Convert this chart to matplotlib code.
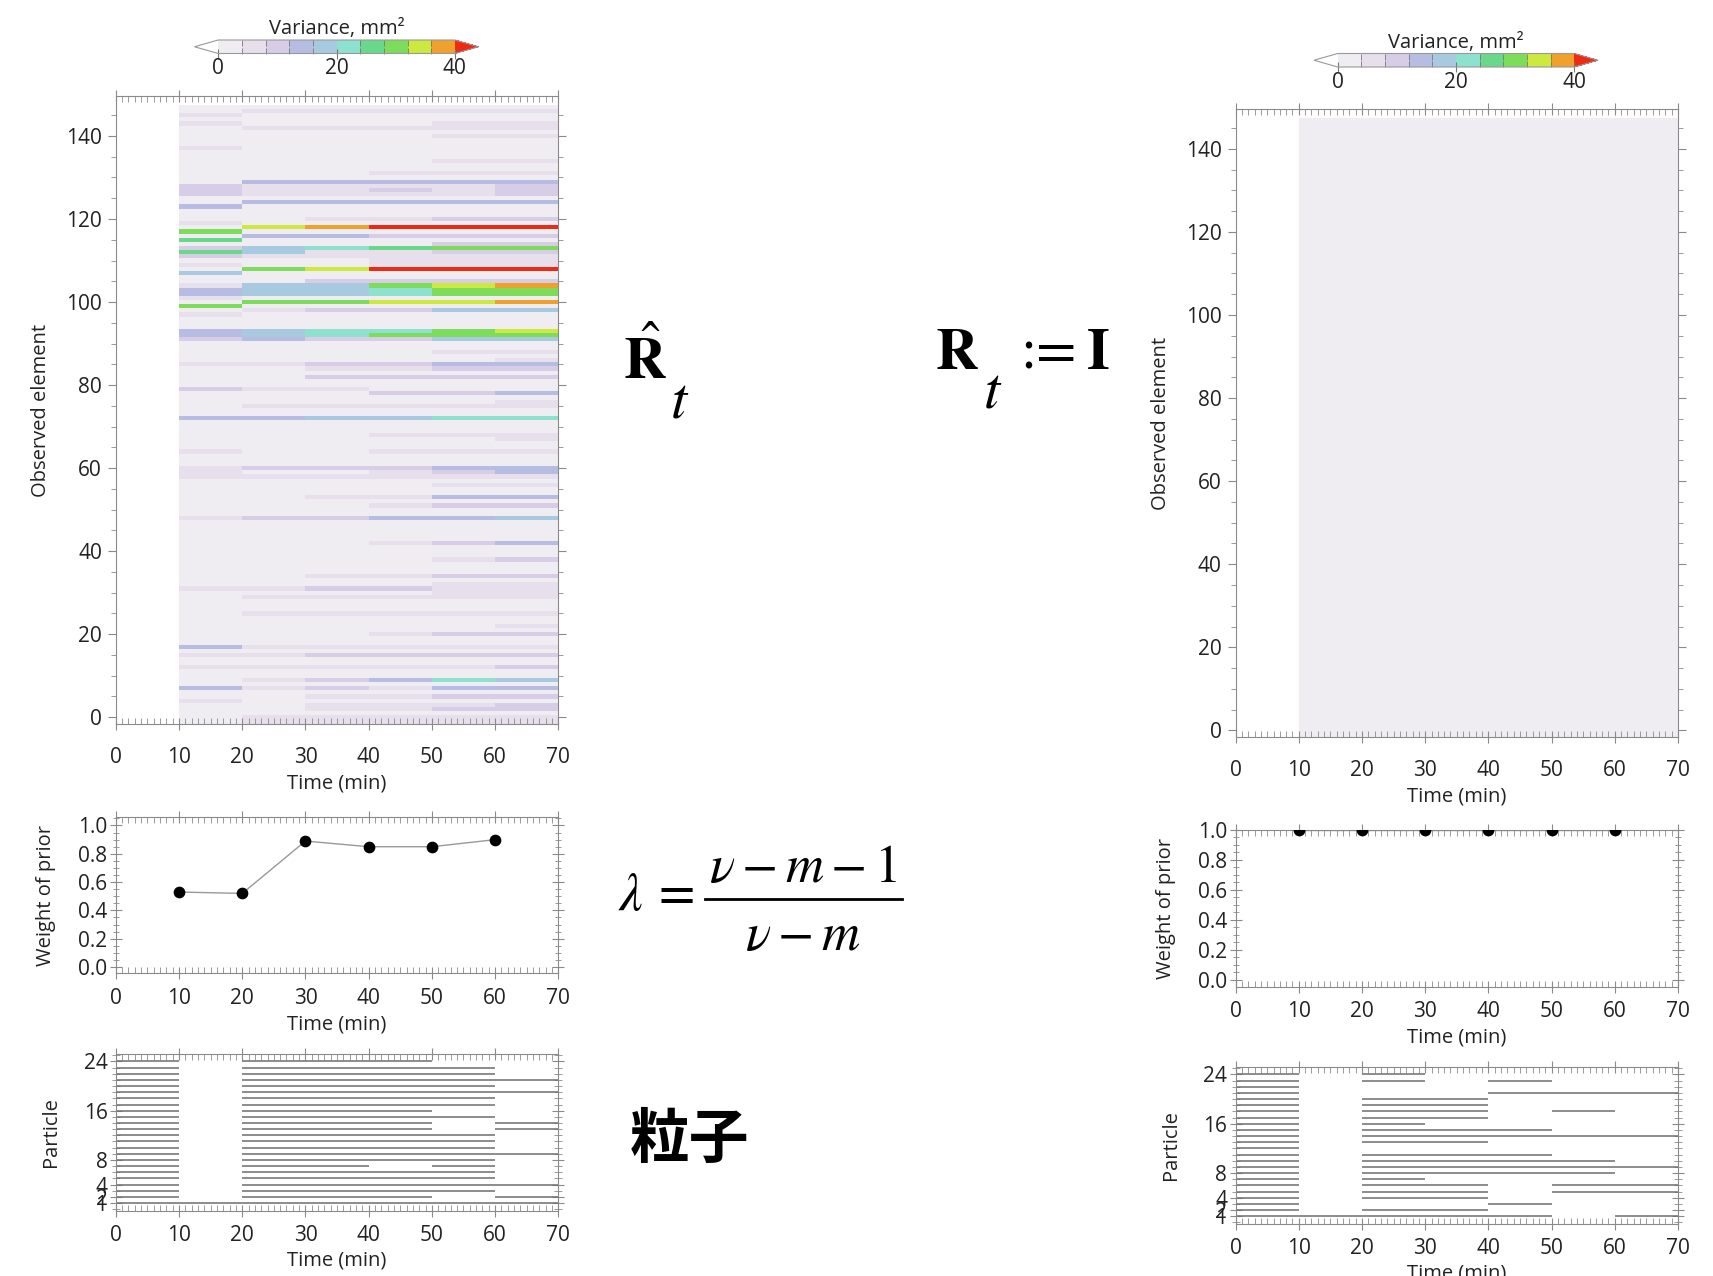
import numpy as np
import matplotlib.pyplot as plt
from matplotlib.colors import ListedColormap, BoundaryNorm
from matplotlib.ticker import MultipleLocator, FixedLocator
from matplotlib.lines import Line2D

plt.rcParams['font.family'] = ['Open Sans', 'DejaVu Sans']
plt.rcParams['mathtext.fontset'] = 'stix'
plt.rcParams['axes.edgecolor'] = '#8a8a8a'
plt.rcParams['xtick.color'] = '#8a8a8a'
plt.rcParams['ytick.color'] = '#8a8a8a'
plt.rcParams['xtick.labelcolor'] = '#222222'
plt.rcParams['ytick.labelcolor'] = '#222222'

# ---- data ----
time_edges = [0, 10, 20, 30, 40, 50, 60, 70]
n_elements = 148
background_var = 2.0

# observed elements whose variance differs from background
# columns: 10-20, 20-30, 30-40, 40-50, 50-60, 60-70 min
hot_rows = [146, 145, 143, 142, 140, 137, 134, 131, 129, 128, 127, 126,
            124, 123, 120, 119, 118, 117, 116, 115, 114, 113, 112, 111,
            110, 109, 108, 107, 105, 104, 103, 102, 101, 100, 99, 98, 97,
            93, 92, 91, 88, 86, 85, 84, 82, 79, 78, 76, 75, 72, 68, 67,
            64, 60, 59, 58, 56, 53, 51, 48, 42, 38, 34, 32, 31, 30, 29,
            25, 22, 20, 17, 15, 12, 9, 7, 5, 4, 3, 2, 0]
hot_vars = [
    [2, 6, 6, 6, 6, 6], [6, 2, 2, 2, 2, 2], [6, 2, 2, 2, 6, 6], [2, 6, 6, 6, 6, 6],
    [2, 2, 2, 2, 6, 6], [6, 2, 2, 2, 2, 2], [2, 2, 2, 2, 6, 6], [2, 2, 2, 6, 6, 6],
    [2, 14, 14, 14, 14, 14], [10, 6, 6, 6, 6, 10], [10, 6, 6, 10, 6, 10], [10, 6, 6, 6, 6, 10],
    [2, 14, 14, 14, 14, 14], [14, 2, 2, 2, 2, 2], [2, 2, 6, 6, 10, 10], [6, 2, 2, 2, 2, 2],
    [2, 34, 38, 45, 45, 45], [30, 2, 2, 2, 2, 2], [2, 14, 14, 10, 10, 10], [26, 2, 2, 2, 2, 2],
    [2, 2, 2, 2, 10, 10], [10, 18, 22, 26, 30, 30], [26, 18, 6, 6, 10, 10], [10, 6, 6, 6, 6, 6],
    [2, 2, 2, 6, 6, 6], [6, 2, 2, 6, 6, 6], [2, 30, 34, 45, 45, 45], [18, 2, 2, 2, 2, 2],
    [2, 2, 10, 10, 10, 10], [6, 18, 18, 30, 34, 38], [14, 18, 18, 22, 30, 30], [14, 18, 18, 22, 30, 30],
    [6, 2, 2, 2, 2, 2], [2, 30, 30, 34, 34, 38], [30, 2, 2, 2, 2, 2], [2, 6, 10, 10, 18, 18],
    [6, 2, 2, 2, 2, 2],
    [14, 18, 22, 22, 30, 34], [14, 18, 22, 30, 30, 30], [10, 14, 10, 10, 18, 18],
    [2, 2, 2, 2, 6, 6], [2, 2, 2, 2, 2, 6], [6, 6, 10, 10, 14, 14], [2, 2, 6, 6, 10, 10],
    [2, 2, 10, 10, 10, 10], [10, 6, 6, 2, 2, 2], [2, 2, 2, 10, 10, 14], [2, 2, 2, 2, 2, 6],
    [2, 6, 6, 6, 6, 6], [14, 14, 18, 18, 22, 22], [2, 2, 2, 6, 6, 6], [2, 2, 2, 2, 2, 6],
    [6, 2, 2, 6, 6, 6], [6, 10, 10, 10, 14, 14], [6, 2, 2, 6, 10, 14], [6, 6, 6, 6, 6, 6],
    [2, 2, 2, 2, 6, 6], [2, 2, 6, 6, 14, 14], [2, 2, 2, 6, 10, 10], [6, 10, 10, 14, 14, 18],
    [2, 2, 2, 6, 10, 14], [2, 2, 2, 2, 6, 10], [2, 2, 6, 6, 10, 10], [2, 2, 2, 2, 6, 6],
    [6, 6, 10, 10, 6, 6], [2, 2, 2, 2, 6, 6], [2, 6, 6, 6, 6, 6],
    [2, 6, 6, 6, 6, 6], [2, 2, 2, 2, 2, 6], [2, 2, 2, 6, 10, 10], [14, 6, 6, 6, 6, 6],
    [6, 6, 10, 10, 10, 10], [6, 6, 6, 6, 6, 10], [2, 6, 10, 14, 22, 18], [14, 6, 10, 6, 14, 14],
    [2, 2, 6, 6, 10, 10], [6, 2, 2, 2, 2, 2], [2, 2, 6, 6, 6, 10], [2, 2, 6, 6, 10, 10],
    [2, 6, 6, 6, 6, 6],
]

weight_times = [10, 20, 30, 40, 50, 60]
weight_est = [0.53, 0.52, 0.89, 0.85, 0.85, 0.90]
weight_fixed = [1.0, 1.0, 1.0, 1.0, 1.0, 1.0]

# particles alive in each 10-min interval
left_alive = [
    list(range(1, 25)),
    [1],
    list(range(1, 25)),
    list(range(1, 25)),
    [1, 2, 3, 4, 5, 6, 8, 9, 10, 11, 12, 13, 14, 15, 16, 17, 18, 19, 20, 21, 22, 23, 24],
    [1, 3, 4, 5, 6, 7, 8, 9, 10, 11, 12, 15, 17, 18, 19, 20, 21, 22, 23],
    [1, 2, 4, 9, 13, 14, 19, 21],
]
right_alive = [
    list(range(1, 25)),
    [1],
    [1, 2, 4, 5, 6, 7, 8, 9, 10, 11, 13, 14, 15, 16, 17, 18, 19, 20, 23, 24],
    [1, 2, 4, 5, 6, 8, 9, 10, 11, 13, 14, 15, 17, 18, 19, 20],
    [1, 3, 8, 9, 10, 11, 14, 15, 21, 23],
    [5, 6, 8, 9, 10, 14, 18, 21],
    [1, 5, 6, 9, 14, 21],
]

var_bounds = np.arange(0, 44, 4)
var_colors = ['#efedf2', '#e7dfec', '#d7cde6', '#b7bde2', '#a8cae0',
              '#8ee0cf', '#6ad88a', '#7ddd5a', '#cde83e', '#f0a02c']

cmap = ListedColormap(var_colors)
cmap.set_over('#ee2a12')
cmap.set_under('white')
cmap.set_bad('white')
norm = BoundaryNorm(var_bounds, cmap.N)

FS = 15
W, H = 1713, 1276
fig = plt.figure(figsize=(W / 100, H / 100), dpi=100)


def box(x0, y0, x1, y1):
    return [x0 / W, 1 - y1 / H, (x1 - x0) / W, (y1 - y0) / H]


def style_time_axis(ax, pad, labelpad):
    ax.set_xlim(0, 70)
    ax.xaxis.set_major_locator(MultipleLocator(10))
    ax.xaxis.set_minor_locator(MultipleLocator(1))
    ax.tick_params(axis='x', which='major', direction='inout', length=9,
                   top=True, labelsize=FS, pad=pad)
    ax.tick_params(axis='x', which='minor', direction='in', length=4, top=True)
    ax.set_xlabel('Time (min)', fontsize=14.5, color='#222222', labelpad=labelpad)


def heatmap(ax, cax, grid, ylab_x):
    y_edges = np.arange(n_elements + 1) - 0.5
    y_edges[0] = -1.7
    mesh = ax.pcolormesh(time_edges, y_edges, np.ma.masked_invalid(grid),
                         cmap=cmap, norm=norm, shading='flat')
    ax.set_ylim(-1.7, 149.6)
    ax.yaxis.set_major_locator(MultipleLocator(20))
    ax.yaxis.set_minor_locator(MultipleLocator(5))
    ax.tick_params(axis='y', which='major', direction='out', length=6,
                   right=True, labelsize=FS, pad=4)
    ax.tick_params(axis='y', which='minor', direction='out', length=3.5, right=True)
    style_time_axis(ax, pad=12, labelpad=4)
    ax.set_ylabel('Observed element', fontsize=14.5, color='#222222')
    ax.yaxis.set_label_coords(ylab_x, 0.5)

    cb = fig.colorbar(mesh, cax=cax, orientation='horizontal', extend='both',
                      extendfrac=0.1, ticks=[0, 20, 40])
    cb.outline.set_edgecolor('#999999')
    cb.outline.set_linewidth(0.8)
    cax.xaxis.set_minor_locator(FixedLocator(var_bounds))
    cax.tick_params(which='major', direction='inout', length=7, labelsize=FS,
                    pad=0, color='#777777')
    cax.tick_params(which='minor', direction='in', length=4, top=True, color='#777777')
    cax.set_title('Variance, mm²', fontsize=14.5, pad=4, color='#222222')


def weight_panel(ax, values, ytop, ylab_x):
    ax.plot(weight_times, values, color='#999999', lw=1.0, zorder=2)
    ax.scatter(weight_times, values, s=55, color='black', zorder=3, clip_on=True)
    ax.set_ylim(-0.045, ytop)
    ax.yaxis.set_major_locator(MultipleLocator(0.2))
    ax.yaxis.set_minor_locator(MultipleLocator(0.05))
    ax.yaxis.set_major_formatter('{x:.1f}')
    ax.tick_params(axis='y', which='major', direction='inout', length=8,
                   right=True, labelsize=FS, pad=2)
    ax.tick_params(axis='y', which='minor', direction='inout', length=4, right=True)
    style_time_axis(ax, pad=6, labelpad=4)
    ax.set_ylabel('Weight of prior', fontsize=14.5, color='#222222')
    ax.yaxis.set_label_coords(ylab_x, 0.5)


def particle_panel(ax, alive, ylab_x):
    for t0, t1, parts in zip(time_edges[:-1], time_edges[1:], alive):
        ax.hlines(parts, t0, t1, color='#6e6e6e', lw=1.1)
    ax.set_ylim(-0.2, 25.2)
    ax.yaxis.set_major_locator(FixedLocator([1, 2, 4, 8, 16, 24]))
    ax.yaxis.set_minor_locator(MultipleLocator(1))
    ax.tick_params(axis='y', which='major', direction='inout', length=8,
                   right=True, labelsize=FS, pad=2)
    ax.tick_params(axis='y', which='minor', direction='inout', length=6, right=True)
    style_time_axis(ax, pad=6, labelpad=3)
    ax.set_ylabel('Particle', fontsize=14.5, color='#222222')
    ax.yaxis.set_label_coords(ylab_x, 0.5)


# grids
left_grid = np.full((n_elements, 7), np.nan)
left_grid[:, 1:] = background_var
for r, vals in zip(hot_rows, hot_vars):
    left_grid[r, 1:] = vals
right_grid = np.full((n_elements, 7), np.nan)
right_grid[:, 1:] = background_var

# left column
ax1 = fig.add_axes(box(115.8, 96.1, 558.3, 724.3))
cax1 = fig.add_axes(box(194.5, 40, 478.5, 53.5))
heatmap(ax1, cax1, left_grid, -0.147)
ax2 = fig.add_axes(box(115.8, 817, 558.3, 973.4))
weight_panel(ax2, weight_est, 1.06, -0.135)
ax3 = fig.add_axes(box(115.8, 1054, 558.3, 1210.5))
particle_panel(ax3, left_alive, -0.123)

# right column
ax4 = fig.add_axes(box(1235.6, 109, 1678, 737.4))
cax4 = fig.add_axes(box(1314, 53.5, 1598, 67))
heatmap(ax4, cax4, right_grid, -0.147)
ax5 = fig.add_axes(box(1235.6, 830, 1678, 986.5))
weight_panel(ax5, weight_fixed, 1.0, -0.135)
ax6 = fig.add_axes(box(1235.6, 1067, 1678, 1223.6))
particle_panel(ax6, right_alive, -0.123)

# annotations
fig.text(645 / W, 1 - 379 / H, r'$\hat{\mathbf{R}}$', fontsize=42, ha='center', va='baseline')
fig.text(680 / W, 1 - 417 / H, r'$t$', fontsize=42, ha='center', va='baseline')
fig.text(957 / W, 1 - 369 / H, r'$\mathbf{R}$', fontsize=42, ha='center', va='baseline')
fig.text(993 / W, 1 - 407 / H, r'$t$', fontsize=42, ha='center', va='baseline')
fig.text(1048 / W, 1 - 369 / H, ':=', fontsize=42, family='STIXGeneral',
         ha='center', va='baseline')
fig.text(1098 / W, 1 - 369 / H, 'I', fontsize=42, family='STIXGeneral',
         fontweight='bold', ha='center', va='baseline')

# lambda = (nu - m - 1) / (nu - m)
fig.text(631 / W, 1 - 910 / H, r'$\lambda$', fontsize=38, ha='center', va='baseline')
fig.text(677 / W, 1 - 910 / H, '=', fontsize=38, family='STIXGeneral',
         ha='center', va='baseline')
fig.text(803 / W, 1 - 882 / H, r'$\nu - m - 1$', fontsize=38, ha='center', va='baseline')
fig.text(803 / W, 1 - 950 / H, r'$\nu - m$', fontsize=38, ha='center', va='baseline')
fig.add_artist(Line2D([705 / W, 902 / W], [1 - 899 / H, 1 - 899 / H],
                      color='black', lw=2.0, transform=fig.transFigure))

fig.text(690 / W, 1 - 1141 / H, '粒子', fontsize=43, fontweight='bold',
         family=['Noto Sans CJK JP', 'DejaVu Sans'], ha='center', va='center')

fig.savefig('out.png', dpi=100)
